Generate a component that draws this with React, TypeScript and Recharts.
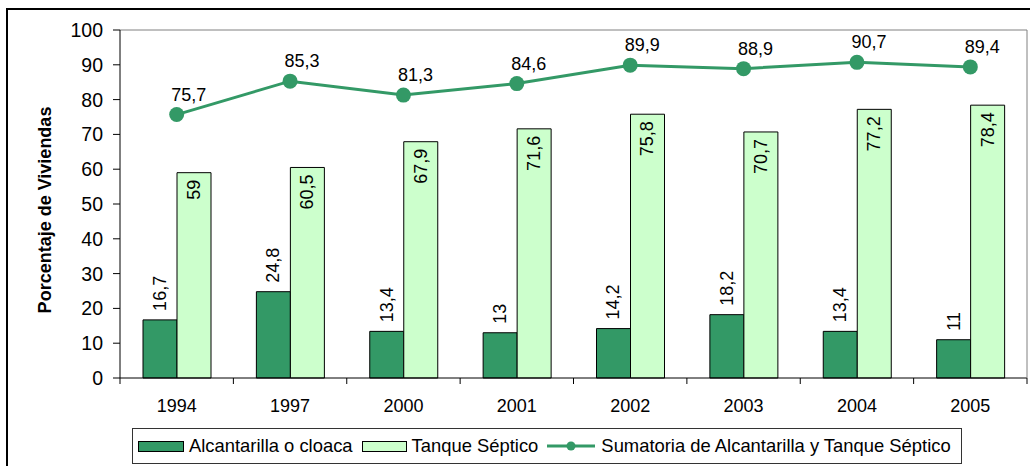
import React from 'react';
import { ComposedChart, Bar, Line, XAxis, YAxis, LabelList, ReferenceLine } from 'recharts';

const years = ['1994', '1997', '2000', '2001', '2002', '2003', '2004', '2005'];
const alcantarilla = [16.7, 24.8, 13.4, 13, 14.2, 18.2, 13.4, 11];
const tanque = [59, 60.5, 67.9, 71.6, 75.8, 70.7, 77.2, 78.4];
const sumatoria = [75.7, 85.3, 81.3, 84.6, 89.9, 88.9, 90.7, 89.4];
const seriesNames = ['Alcantarilla o cloaca', 'Tanque Séptico', 'Sumatoria de Alcantarilla y Tanque Séptico'];
const yTicks = [0, 10, 20, 30, 40, 50, 60, 70, 80, 90, 100];

const data = years.map((year, i) => ({
  year,
  alcantarilla: alcantarilla[i],
  tanque: tanque[i],
  sumatoria: sumatoria[i],
}));

const DARK = '#339966';
const LIGHT = '#CCFFCC';
const FONT = '"Liberation Sans", Arial, sans-serif';

const W = 1030;
const H = 466;
// x axis keeps its default 30px height, so bottom margin + 30 puts the axis at y=378
const MARGIN = { top: 30, right: 2, bottom: 58, left: 0 };
const Y_AXIS_W = 120;
const PLOT_W = W - MARGIN.left - MARGIN.right - Y_AXIS_W - 1;
const BAND = PLOT_W / years.length;

const fmt = (v: any) => String(v).replace('.', ',');

// rotated labels sitting above the dark bars
const DarkLabel = (props: any) => {
  const { x, y, width, value } = props;
  const cx = Number(x) + Number(width) / 2;
  const ty = Number(y) - 9;
  return (
    <text x={cx} y={ty} transform={`rotate(-90 ${cx} ${ty})`} textAnchor="start"
      dominantBaseline="central" fontSize={18} fontFamily={FONT} fill="#000">
      {fmt(value)}
    </text>
  );
};

// rotated labels inside the top of the light bars
const LightLabel = (props: any) => {
  const { x, y, width, value } = props;
  const cx = Number(x) + Number(width) / 2;
  const ty = Number(y) + 7;
  return (
    <text x={cx} y={ty} transform={`rotate(-90 ${cx} ${ty})`} textAnchor="end"
      dominantBaseline="central" fontSize={18} fontFamily={FONT} fill="#000">
      {fmt(value)}
    </text>
  );
};

const LineLabel = (props: any) => {
  const { x, y, value } = props;
  return (
    <text x={Number(x) + 12} y={Number(y) - 14} textAnchor="middle" fontSize={18} fontFamily={FONT} fill="#000">
      {fmt(value)}
    </text>
  );
};

const XTick = (props: any) => {
  const { x, y, payload, index } = props;
  const left = x - BAND / 2;
  const right = x + BAND / 2;
  return (
    <g>
      <line x1={left} y1={y} x2={left} y2={y + 6} stroke="#000" />
      {index === years.length - 1 && <line x1={right} y1={y} x2={right} y2={y + 6} stroke="#000" />}
      <text x={x} y={y + 34} textAnchor="middle" fontSize={18} fontFamily={FONT} fill="#000">
        {payload.value}
      </text>
    </g>
  );
};

const YLabel = (props: any) => {
  const { viewBox } = props;
  const cy = viewBox.y + viewBox.height / 2 + 6;
  const cx = 45;
  return (
    <text x={cx} y={cy} transform={`rotate(-90 ${cx} ${cy})`} textAnchor="middle"
      dominantBaseline="central" fontSize={18} fontWeight="bold" fontFamily={FONT} fill="#000">
      Porcentaje de Viviendas
    </text>
  );
};

const LegendBox = () => (
  <div
    style={{
      position: 'absolute',
      left: 132,
      top: 428,
      width: 830,
      height: 36,
      border: '1px solid #333',
      display: 'flex',
      alignItems: 'center',
      fontFamily: FONT,
      fontSize: 18.4,
      color: '#000',
      boxSizing: 'border-box',
      paddingLeft: 5,
      whiteSpace: 'nowrap',
    }}
  >
    <span style={{ width: 44, height: 9, background: DARK, border: '1px solid #000', marginRight: 5 }} />
    <span style={{ marginRight: 9 }}>{seriesNames[0]}</span>
    <span style={{ width: 43, height: 9, background: LIGHT, border: '1px solid #000', marginRight: 5 }} />
    <span style={{ marginRight: 9 }}>{seriesNames[1]}</span>
    <svg width={48} height={12} style={{ marginRight: 6 }}>
      <line x1={0} y1={6} x2={48} y2={6} stroke={DARK} strokeWidth={3} />
      <circle cx={24} cy={6} r={4.5} fill={DARK} />
    </svg>
    <span>{seriesNames[2]}</span>
  </div>
);

export default function App() {
  return (
    <div style={{ position: 'absolute', left: 0, top: 0, width: W, height: H, background: '#fff', overflow: 'hidden' }}>
      <div
        style={{
          position: 'absolute',
          left: 6,
          top: 8,
          width: W + 20,
          height: H + 20,
          borderLeft: '2px solid #000',
          borderTop: '2px solid #000',
        }}
      />
      <div style={{ position: 'absolute', left: 0, top: 0 }}>
        <ComposedChart width={W} height={H} data={data} margin={MARGIN} barGap={0} barCategoryGap="20%">
          <XAxis dataKey="year" stroke="#000" tickLine={false} tickSize={0} tickMargin={0} tick={<XTick />} interval={0} />
          <YAxis
            yAxisId="l"
            width={Y_AXIS_W}
            domain={[0, 100]}
            ticks={yTicks}
            interval={0}
            stroke="#000"
            tickSize={7}
            tickMargin={10}
            tick={{ fontSize: 19.5, fontFamily: FONT, fill: '#000' }}
            label={<YLabel />}
          />
          <YAxis yAxisId="r" orientation="right" width={1} domain={[0, 100]} tick={false} tickLine={false} stroke="#808080" />
          <ReferenceLine yAxisId="l" y={100} stroke="#808080" />
          <Bar yAxisId="l" dataKey="alcantarilla" name={seriesNames[0]} fill={DARK} stroke="#000" strokeWidth={1} barSize={34} isAnimationActive={false}>
            <LabelList dataKey="alcantarilla" content={<DarkLabel />} />
          </Bar>
          <Bar yAxisId="l" dataKey="tanque" name={seriesNames[1]} fill={LIGHT} stroke="#000" strokeWidth={1} barSize={34} isAnimationActive={false}>
            <LabelList dataKey="tanque" content={<LightLabel />} />
          </Bar>
          <Line
            yAxisId="l"
            dataKey="sumatoria"
            name={seriesNames[2]}
            stroke={DARK}
            strokeWidth={3}
            dot={{ r: 7.5, fill: DARK, stroke: DARK, strokeWidth: 0 }}
            activeDot={false}
            isAnimationActive={false}
          >
            <LabelList dataKey="sumatoria" content={<LineLabel />} />
          </Line>
        </ComposedChart>
      </div>
      <LegendBox />
    </div>
  );
}
